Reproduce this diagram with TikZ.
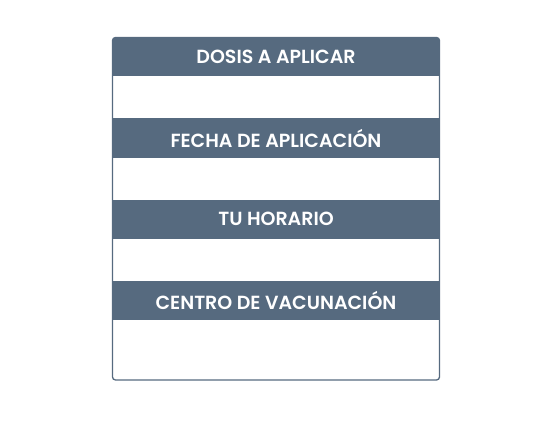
\documentclass[tikz,border=0pt]{standalone}
\usepackage{fontspec}
\setmainfont{Poppins}[BoldFont={Poppins SemiBold}]
\definecolor{slate}{HTML}{566A7F}
\tikzset{
  head/.style={fill=slate,text=white,font=\bfseries\fontsize{19}{20}\selectfont,minimum width=330pt,minimum height=39pt,inner sep=0pt},
  frame/.style={draw=slate,line width=1.3pt,rounded corners=3pt}
}
\begin{document}
\begin{tikzpicture}[x=1pt,y=-1pt]
	\useasboundingbox (0,0) rectangle (551,441);
	
	% frame
	\coordinate (NW) at (112.5,37.5);
	\coordinate (SE) at (439.5,380);
	
	% headers
	\begin{scope}
		\clip[rounded corners=3pt] (NW) rectangle (SE);
		\node[head] (dosis) at (276,57) {DOSIS A APLICAR};
		\node[head] (fecha) at (276,138) {FECHA DE APLICACIÓN};
		\node[head] (horario) at (276,219) {TU HORARIO};
		\node[head] (centro) at (276,300.5) {CENTRO DE VACUNACIÓN};
	\end{scope}
	
	\draw[frame] (NW) rectangle (SE);
\end{tikzpicture}
\end{document}
